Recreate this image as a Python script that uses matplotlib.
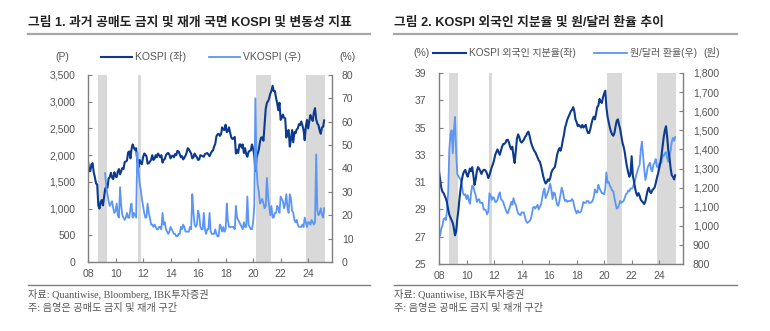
import matplotlib
matplotlib.use('Agg')
import matplotlib.pyplot as plt
import matplotlib.dates as mdates
import pandas as pd

plt.rcParams['font.family'] = ['Liberation Sans', 'Noto Sans CJK KR']
plt.rcParams['axes.unicode_minus'] = False

# monthly KOSPI (P), 2008-01 .. 2025-03
kospi = [1880, 1700, 1700, 1830, 1850, 1680, 1590, 1470, 1450, 1060, 1000, 1120,
         1160, 1060, 1210, 1370, 1400, 1390, 1560, 1590, 1670, 1580, 1550, 1680,
         1600, 1590, 1690, 1740, 1640, 1700, 1760, 1740, 1870, 1880, 1900, 2050,
         2070, 1940, 2110, 2200, 2140, 2100, 2130, 1880, 1770, 1910, 1850, 1830,
         1960, 2030, 2010, 1980, 1840, 1850, 1880, 1910, 2000, 1910, 1930, 2000,
         1960, 2030, 2000, 1960, 2000, 1860, 1910, 1930, 2000, 2030, 2040, 2010,
         1940, 1980, 1990, 1960, 2020, 2000, 2080, 2070, 2020, 1960, 1980, 1920,
         1950, 1990, 2040, 2130, 2110, 2070, 2030, 1940, 1960, 2030, 1990, 1960,
         1910, 1920, 2000, 1990, 1980, 1970, 2020, 2030, 2040, 2010, 1980, 2030,
         2070, 2090, 2160, 2210, 2350, 2390, 2400, 2360, 2390, 2520, 2480, 2470,
         2570, 2430, 2450, 2520, 2420, 2330, 2300, 2320, 2340, 2030, 2100, 2040,
         2200, 2200, 2140, 2200, 2040, 2130, 2020, 1970, 2060, 2080, 2090, 2200,
         2120, 1990, 1700, 1950, 2030, 2110, 2250, 2330, 2330, 2270, 2590, 2870,
         2980, 3010, 3060, 3150, 3200, 3300, 3200, 3200, 3070, 2970, 2840, 2980,
         2660, 2700, 2760, 2700, 2690, 2330, 2450, 2470, 2160, 2290, 2470, 2240,
         2430, 2410, 2480, 2500, 2580, 2560, 2630, 2560, 2470, 2280, 2540, 2660,
         2500, 2640, 2750, 2690, 2640, 2800, 2880, 2670, 2590, 2560, 2460, 2400,
         2520, 2530, 2650]

# monthly VKOSPI (%), 2009-04 .. 2025-03
vkospi = [38, 32, 29, 26, 24, 25, 26, 23, 21,
          22, 25, 20, 19, 32, 24, 20, 19, 18, 19, 21, 19,
          19, 23, 25, 19, 21, 20, 19, 47, 40, 34, 31, 27,
          24, 21, 19, 19, 25, 21, 19, 16, 16, 15, 16, 15,
          14, 14, 15, 15, 14, 21, 16, 17, 14, 13, 12, 13,
          15, 14, 13, 12, 12, 11, 11, 12, 12, 15, 14, 16,
          15, 13, 13, 13, 13, 15, 14, 29, 21, 16, 15, 16,
          22, 20, 15, 14, 14, 21, 14, 12, 14, 14, 21, 13,
          12, 12, 12, 14, 12, 11, 11, 16, 15, 13, 15, 13,
          14, 25, 18, 15, 15, 15, 15, 15, 14, 24, 19, 18,
          17, 16, 15, 14, 17, 15, 15, 28, 16, 15, 14, 14,
          17, 24, 70, 40, 33, 30, 25, 26, 27, 25, 23, 24,
          36, 28, 24, 20, 24, 19, 19, 21, 21, 24, 23, 21,
          28, 27, 26, 23, 25, 29, 23, 21, 29, 27, 22, 21,
          18, 17, 18, 16, 15, 15, 15, 16, 15, 19, 17, 15,
          17, 17, 16, 18, 17, 16, 17, 46, 22, 20, 21, 23,
          20, 19, 23]

# monthly foreign ownership of KOSPI (%), 2008-01 .. 2025-03
foreign = [31.8, 31.2, 30.6, 30.3, 30.2, 30.0, 29.8, 29.5, 29.0, 28.6, 28.4, 28.2,
           28.0, 27.6, 27.1, 27.4, 28.3, 29.0, 29.9, 30.6, 31.2, 31.6, 31.8, 31.9,
           31.6, 31.4, 31.7, 32.0, 31.8, 32.1, 31.5, 30.8, 31.2, 31.8, 32.1, 32.0,
           31.8, 31.6, 31.8, 31.9, 31.9, 31.8, 31.6, 31.3, 31.5, 31.8, 32.1, 32.3,
           32.6, 33.0, 33.2, 33.4, 33.2, 33.0, 33.3, 33.6, 33.8, 33.8, 33.9, 34.1,
           34.1, 33.9, 33.6, 33.4, 33.6, 32.9, 32.4, 33.3, 34.2, 34.5, 34.3, 34.0,
           33.9, 34.0, 34.1, 34.3, 34.4, 34.6, 34.7, 34.4, 34.0, 33.7, 33.5, 33.3,
           33.2, 33.0, 32.8, 32.6, 32.5, 32.2, 31.8, 31.4, 31.1, 30.9, 31.0, 31.2,
           31.1, 31.3, 31.7, 31.9, 32.0, 32.1, 32.5, 33.0, 33.3, 33.5, 33.3, 33.6,
           34.1, 34.5, 35.0, 35.3, 35.6, 35.8, 36.0, 36.2, 36.3, 36.5, 36.2, 35.6,
           35.4, 35.1, 35.2, 35.1, 35.0, 35.2, 35.0, 35.1, 35.2, 34.8, 34.6, 34.6,
           34.9, 35.3, 35.6, 35.8, 35.6, 36.0, 36.5, 36.6, 37.1, 36.9, 36.8, 37.2,
           37.5, 37.7, 36.5, 35.8, 35.4, 35.0, 34.7, 34.5, 34.4, 34.6, 35.1, 35.5,
           35.6, 35.2, 34.9, 34.4, 33.9, 33.6, 33.2, 32.6, 32.1, 31.7, 31.4, 31.6,
           32.9, 31.5, 31.1, 30.6, 30.2, 30.0, 30.2, 30.0, 29.7, 29.6, 29.5, 29.4,
           29.6, 30.0, 30.4, 30.6, 30.3, 30.2, 30.4, 30.5, 30.6, 30.9, 31.3, 31.6,
           32.0, 32.4, 32.9, 33.6, 34.3, 34.8, 35.1, 34.3, 33.3, 32.8, 32.0, 31.5,
           31.4, 31.2, 31.5]

# monthly KRW/USD (won), 2008-01 .. 2025-03
krw = [945, 950, 985, 1000, 1035, 1040, 1030, 1080, 1180, 1400, 1480, 1500,
       1380, 1500, 1570, 1380, 1270, 1260, 1250, 1240, 1210, 1170, 1160, 1165,
       1140, 1160, 1135, 1115, 1170, 1210, 1205, 1180, 1160, 1125, 1135, 1140,
       1120, 1120, 1120, 1085, 1085, 1080, 1060, 1075, 1170, 1160, 1135, 1150,
       1145, 1125, 1125, 1135, 1160, 1175, 1140, 1133, 1125, 1105, 1088, 1070,
       1065, 1085, 1100, 1125, 1110, 1145, 1120, 1110, 1085, 1065, 1060, 1055,
       1070, 1070, 1070, 1045, 1025, 1015, 1020, 1025, 1035, 1060, 1095, 1100,
       1090, 1100, 1110, 1085, 1100, 1110, 1145, 1180, 1195, 1145, 1160, 1175,
       1200, 1220, 1190, 1140, 1175, 1170, 1140, 1110, 1105, 1130, 1165, 1200,
       1180, 1145, 1130, 1135, 1125, 1130, 1130, 1130, 1140, 1130, 1100, 1080,
       1065, 1080, 1070, 1070, 1075, 1100, 1125, 1120, 1120, 1130, 1130, 1120,
       1120, 1125, 1130, 1150, 1190, 1175, 1175, 1215, 1195, 1185, 1170, 1170,
       1165, 1195, 1280, 1225, 1230, 1210, 1200, 1185, 1180, 1145, 1115, 1090,
       1095, 1110, 1130, 1120, 1125, 1130, 1145, 1165, 1170, 1185, 1180, 1195,
       1195, 1200, 1220, 1235, 1265, 1285, 1305, 1320, 1400, 1440, 1365, 1295,
       1240, 1270, 1305, 1320, 1330, 1295, 1285, 1320, 1330, 1350, 1310, 1305,
       1325, 1330, 1330, 1370, 1365, 1380, 1385, 1355, 1335, 1365, 1395, 1440,
       1460, 1445, 1465]

# short-selling ban periods (shaded)
ban_start = ['2008-10-01', '2011-08-10', '2020-03-16', '2023-11-06']
ban_end = ['2009-06-01', '2011-11-10', '2021-05-03', '2025-03-30']

dates_main = pd.date_range('2008-01-01', periods=len(kospi), freq='MS')
dates_vk = pd.date_range('2009-04-01', periods=len(vkospi), freq='MS')

DARK = '#0B3A8E'
LIGHT = '#5B95F5'
SHADE = '#D9D9D9'
GRAY = '#7F7F7F'
TXT = '#555555'
xmin, xmax = pd.Timestamp('2008-01-01'), pd.Timestamp('2025-09-25')

fig = plt.figure(figsize=(7.7, 3.31), dpi=100)


def style_axes(ax, ax2, shade_ax):
    for a in (ax, ax2):
        for s in a.spines.values():
            s.set_color(GRAY)
            s.set_linewidth(1.0)
        a.spines['top'].set_visible(False)
        a.tick_params(direction='in', length=3, colors=GRAY, labelcolor=TXT,
                      labelsize=7.5, width=0.8)
    ax.spines['right'].set_visible(False)
    ax2.spines['left'].set_visible(False)
    ax2.spines['bottom'].set_visible(False)
    ax.tick_params(axis='y', pad=9)
    ax2.tick_params(axis='y', pad=7)
    ax.tick_params(axis='x', pad=5)
    ax.xaxis.set_major_locator(mdates.YearLocator(2))
    ax.xaxis.set_major_formatter(mdates.DateFormatter('%y'))
    ax.set_xlim(xmin, xmax)
    for s, e in zip(ban_start, ban_end):
        shade_ax.axvspan(pd.Timestamp(s), pd.Timestamp(e), color=SHADE, lw=0, zorder=0)


def header(x0, x1, title):
    fig.text(x0 / 770, 1 - 23 / 331, title, fontsize=9.2, fontweight='bold',
             color='#222222', va='center', ha='left')
    fig.add_artist(plt.Line2D([x0 / 770, x1 / 770], [1 - 34 / 331] * 2,
                              color='#A6A6A6', lw=1.6))
    fig.add_artist(plt.Line2D([x0 / 770, x1 / 770], [1 - 285 / 331] * 2,
                              color='#7F7F7F', lw=1.0))


src_font = ['Liberation Serif', 'Noto Sans CJK KR']

# ---- 그림 1 ----
ax1 = fig.add_axes([88 / 770, 1 - 262 / 331, 244 / 770, 187 / 331])
ax1b = ax1.twinx()
l1, = ax1.plot(dates_main, kospi, color=DARK, lw=1.5, label='KOSPI (좌)')
l2, = ax1b.plot(dates_vk, vkospi, color=LIGHT, lw=1.3, label='VKOSPI (우)')
ax1.set_ylim(0, 3500)
ax1.set_yticks(range(0, 3501, 500))
ax1.set_yticklabels([f'{v:,}' for v in range(0, 3501, 500)])
ax1b.set_ylim(0, 80)
ax1b.set_yticks(range(0, 81, 10))
style_axes(ax1, ax1b, ax1)
fig.legend(handles=[l1, l2], loc='center', bbox_to_anchor=(201 / 770, 1 - 57 / 331),
           ncol=2, frameon=False, fontsize=7.5, handlelength=3.0, columnspacing=2.2,
           handletextpad=0.3, labelcolor=TXT)
fig.text(62 / 770, 1 - 57 / 331, '(P)', fontsize=7.5, color=TXT, ha='center', va='center')
fig.text(347 / 770, 1 - 57 / 331, '(%)', fontsize=7.5, color=TXT, ha='center', va='center')
header(28, 370, '그림 1. 과거 공매도 금지 및 재개 국면 KOSPI 및 변동성 지표')
fig.text(28 / 770, 1 - 294 / 331, '자료: Quantiwise, Bloomberg, IBK투자증권', fontsize=7.3,
         color=TXT, va='center', family=src_font)
fig.text(28 / 770, 1 - 308 / 331, '주: 음영은 공매도 금지 및 재개 구간', fontsize=7.3,
         color=TXT, va='center', family=src_font)

# ---- 그림 2 ----
ax2 = fig.add_axes([439 / 770, 1 - 264 / 331, 244 / 770, 191 / 331])
ax2b = ax2.twinx()
m2, = ax2b.plot(dates_main, krw, color=LIGHT, lw=1.3, label='원/달러 환율(우)')
m1, = ax2.plot(dates_main, foreign, color=DARK, lw=1.5, label='KOSPI 외국인 지분율(좌)')
ax2.set_zorder(ax2b.get_zorder() + 1)
ax2.patch.set_visible(False)
ax2.set_ylim(25, 39)
ax2.set_yticks(range(25, 40, 2))
ax2b.set_ylim(800, 1800)
ax2b.set_yticks(range(800, 1801, 100))
ax2b.set_yticklabels([f'{v:,}' for v in range(800, 1801, 100)])
style_axes(ax2, ax2b, ax2b)
fig.legend(handles=[m1, m2], loc='center', bbox_to_anchor=(565 / 770, 1 - 53 / 331),
           ncol=2, frameon=False, fontsize=7.2, handlelength=3.3, columnspacing=1.8,
           handletextpad=0.3, labelcolor=TXT)
fig.text(422 / 770, 1 - 53 / 331, '(%)', fontsize=7.5, color=TXT, ha='center', va='center')
fig.text(712 / 770, 1 - 53 / 331, '(원)', fontsize=7.5, color=TXT, ha='center', va='center')
header(394, 737, '그림 2. KOSPI 외국인 지분율 및 원/달러 환율 추이')
fig.text(394 / 770, 1 - 294 / 331, '자료: Quantiwise, IBK투자증권', fontsize=7.3,
         color=TXT, va='center', family=src_font)
fig.text(394 / 770, 1 - 308 / 331, '주: 음영은 공매도 금지 및 재개 구간', fontsize=7.3,
         color=TXT, va='center', family=src_font)

fig.savefig('out.png', dpi=100)
